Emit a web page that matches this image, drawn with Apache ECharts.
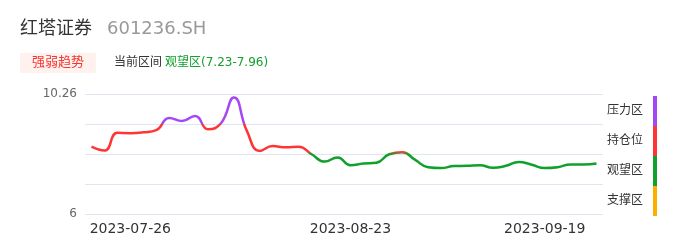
<!DOCTYPE html>
<html>
<head>
<meta charset="utf-8">
<script src="https://cdn.jsdelivr.net/npm/echarts@6/dist/echarts.min.js"></script>
<style>
html,body{margin:0;padding:0;background:#fff;}
#main{width:686px;height:247px;}
</style>
</head>
<body>
<div id="main"></div>
<script>
const dates = [
  '2023-07-21','2023-07-24','2023-07-25','2023-07-26','2023-07-27','2023-07-28','2023-07-31',
  '2023-08-01','2023-08-03','2023-08-04','2023-08-07','2023-08-08','2023-08-10','2023-08-11',
  '2023-08-14','2023-08-15','2023-08-17','2023-08-18','2023-08-21','2023-08-22','2023-08-23',
  '2023-08-24','2023-08-25','2023-08-28','2023-08-30','2023-08-31','2023-09-01','2023-09-04',
  '2023-09-06','2023-09-07','2023-09-08','2023-09-11','2023-09-13','2023-09-15','2023-09-18',
  '2023-09-19','2023-09-20','2023-09-21','2023-09-22','2023-09-25'
];
const prices = [
  8.39, 8.25, 8.88, 8.87, 8.90, 8.98, 9.41, 9.30, 9.48, 9.01,
  9.22, 10.14, 8.95, 8.24, 8.41, 8.37, 8.39, 8.12, 7.86, 8.01,
  7.73, 7.79, 7.82, 8.12, 8.19, 7.92, 7.66, 7.63, 7.70, 7.71,
  7.73, 7.64, 7.71, 7.85, 7.75, 7.63, 7.66, 7.76, 7.76, 7.79
];
const xTickLabels = ['2023-07-26', '2023-08-23', '2023-09-19'];
const yMin = 6;
const yMax = 10.26;
const yLabelValues = [6, 10.26];
const zoneNames = ['压力区', '持仓位', '观望区', '支撑区'];
const zoneColors = ['#a348f5', '#ff3535', '#12a02c', '#fbb000'];
const zoneThresholds = [9.2, 8.17, 7.065];
const stockName = '红塔证券';
const stockCode = '601236.SH';
const tagText = '强弱趋势';
const rangeLabel = '当前区间';
const rangeText = '观望区(7.23-7.96)';

const FONT = '"DejaVu Sans", "Noto Sans CJK SC", sans-serif';
const chart = echarts.init(document.getElementById('main'), null, {renderer: 'canvas'});
const step = (yMax - yMin) / 4;

chart.setOption({
  animation: false,
  grid: {left: 85, right: 83, top: 94, bottom: 33},
  xAxis: {
    type: 'category',
    data: dates,
    boundaryGap: true,
    axisLine: {show: false},
    axisTick: {show: false},
    axisLabel: {
      interval: function (idx, val) { return xTickLabels.indexOf(val) >= 0; },
      color: '#333',
      fontSize: 14,
      fontFamily: FONT,
      margin: 8
    }
  },
  yAxis: {
    type: 'value',
    min: yMin,
    max: yMax,
    interval: step,
    axisLine: {show: false},
    axisTick: {show: false},
    splitLine: {lineStyle: {color: '#e0e6f1', width: 1}},
    axisLabel: {
      color: '#666',
      fontSize: 12,
      fontFamily: FONT,
      margin: 8,
      formatter: function (v) {
        for (const t of yLabelValues) { if (Math.abs(v - t) < 1e-6) return String(t); }
        return '';
      }
    }
  },
  visualMap: {
    show: false,
    type: 'piecewise',
    dimension: 1,
    seriesIndex: 0,
    pieces: [
      {gt: zoneThresholds[0], color: zoneColors[0]},
      {gt: zoneThresholds[1], lte: zoneThresholds[0], color: zoneColors[1]},
      {gt: zoneThresholds[2], lte: zoneThresholds[1], color: zoneColors[2]},
      {lte: zoneThresholds[2], color: zoneColors[3]}
    ]
  },
  series: [{
    type: 'line',
    data: prices,
    smooth: true,
    symbol: 'none',
    lineStyle: {width: 2.5}
  }]
});

const graphics = [
  {type: 'text', left: 20, top: 20, style: {text: stockName, fontSize: 18, fontFamily: FONT, fill: '#333'}},
  {type: 'text', left: 107, top: 20, style: {text: stockCode, fontSize: 18, fontFamily: FONT, fill: '#999'}},
  {type: 'rect', shape: {x: 20, y: 53, width: 76, height: 20}, style: {fill: '#fff1ee'}},
  {type: 'text', x: 58, y: 63, style: {text: tagText, fontSize: 13, fontFamily: FONT, fill: '#f5352f', align: 'center', verticalAlign: 'middle'}},
  {type: 'text', x: 114, y: 63, style: {text: rangeLabel, fontSize: 12, fontFamily: FONT, fill: '#333', verticalAlign: 'middle'}},
  {type: 'text', x: 165, y: 63, style: {text: rangeText, fontSize: 12, fontFamily: FONT, fill: '#12a02c', verticalAlign: 'middle'}}
];
for (let i = 0; i < zoneNames.length; i++) {
  const top = chart.convertToPixel({yAxisIndex: 0}, yMax - step * i);
  const bot = chart.convertToPixel({yAxisIndex: 0}, yMax - step * (i + 1));
  graphics.push({type: 'rect', shape: {x: 653, y: top + 2, width: 4, height: bot - top}, style: {fill: zoneColors[i]}});
  graphics.push({type: 'text', x: 607, y: (top + bot) / 2 + 2, style: {text: zoneNames[i], fontSize: 12, fontFamily: FONT, fill: '#333', verticalAlign: 'middle'}});
}
chart.setOption({graphic: graphics});
</script>
</body>
</html>
